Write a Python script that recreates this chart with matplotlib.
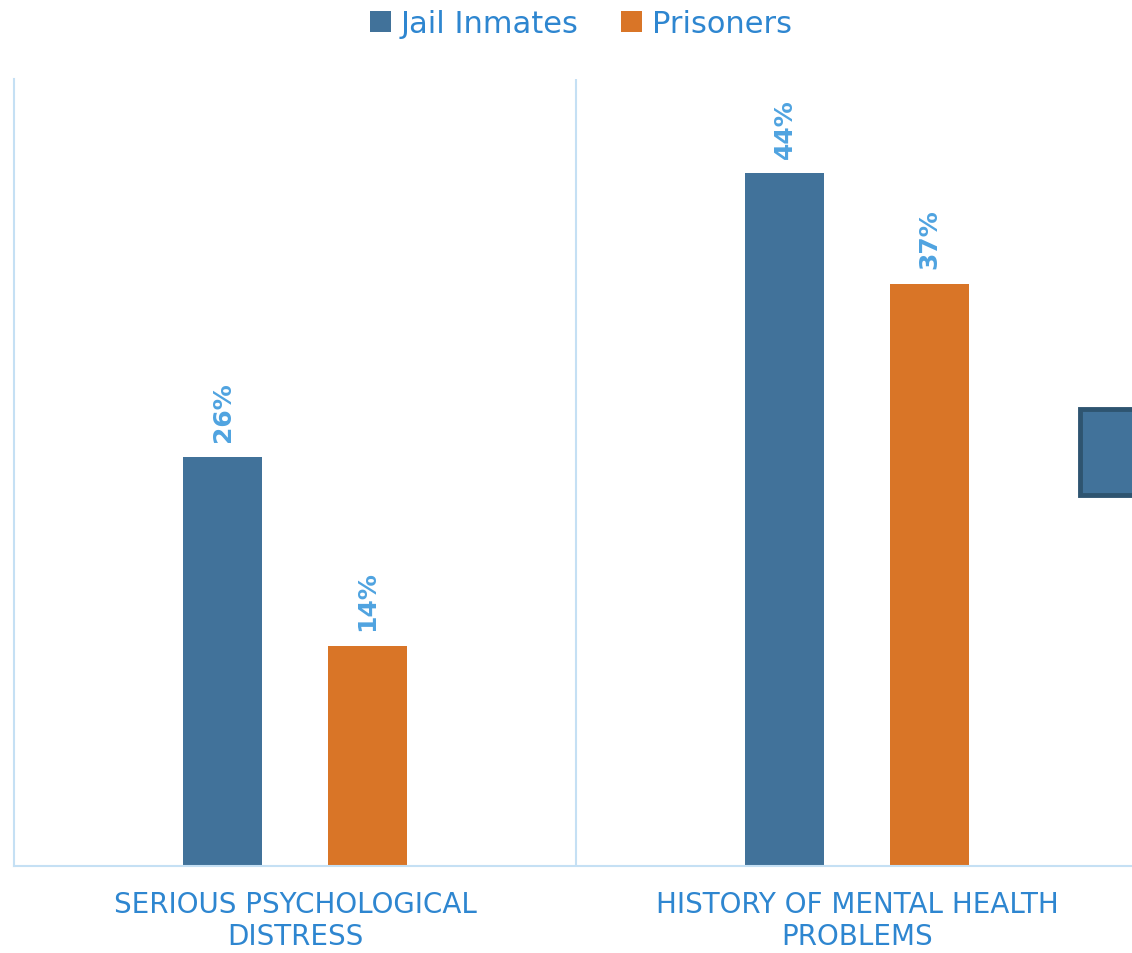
import matplotlib
matplotlib.use("Agg")
import matplotlib.pyplot as plt
from matplotlib.patches import Rectangle
import numpy as np

categories = ["SERIOUS PSYCHOLOGICAL\nDISTRESS", "HISTORY OF MENTAL HEALTH\nPROBLEMS"]
series_names = ["Jail Inmates", "Prisoners"]
jail = [26, 44]
prisoners = [14, 37]
colors = ["#41729A", "#D97527"]

plt.rcParams['font.family'] = ['DejaVu Sans']

fig = plt.figure(figsize=(11.32, 9.54), dpi=100)
ax = fig.add_axes([14/1132, 1-867/954, 1124/1132, (867-80)/954])

x = np.arange(len(categories))
w = 0.139
off = 0.129
b1 = ax.bar(x - off, jail, w, color=colors[0], label=series_names[0])
b2 = ax.bar(x + off, prisoners, w, color=colors[1], label=series_names[1])

for bars, vals in ((b1, jail), (b2, prisoners)):
    for rect, v in zip(bars, vals):
        ax.annotate(f"{v}%", (rect.get_x() + rect.get_width()/2, rect.get_height()),
                    xytext=(0, 11), textcoords="offset points", rotation=90,
                    ha="center", va="bottom", fontsize=18, fontweight="bold",
                    color="#4FA3E0")

ax.set_xlim(-0.5, 1.5)
ax.set_ylim(0, 50)
ax.set_yticks([])
ax.set_xticks(x)
ax.set_xticklabels(categories, fontsize=20, color="#2E86D0", linespacing=1.2)
ax.tick_params(axis="x", length=0, pad=17)
for s in ["top", "right"]:
    ax.spines[s].set_visible(False)
ax.spines["left"].set_color("#C5E0F4")
ax.spines["bottom"].set_color("#C5E0F4")
ax.spines["left"].set_linewidth(1.5)
ax.spines["bottom"].set_linewidth(1.5)
ax.axvline(0.5, color="#C5E0F4", lw=1.5)

leg = fig.legend(handles=[b1, b2], labels=series_names, loc="upper center",
                 bbox_to_anchor=(0.513, 1.018), ncol=2, frameon=False,
                 fontsize=22, handlelength=0.7, handleheight=0.7,
                 handletextpad=0.3, columnspacing=1.4)
for t in leg.get_texts():
    t.set_color("#2E86D0")

fig.add_artist(Rectangle((1080/1132, 1-496/954), 0.06, 86/954,
                         transform=fig.transFigure, facecolor="#41729A",
                         edgecolor="#2E5470", linewidth=3.5, clip_on=False))

fig.savefig("out.png", dpi=100)
